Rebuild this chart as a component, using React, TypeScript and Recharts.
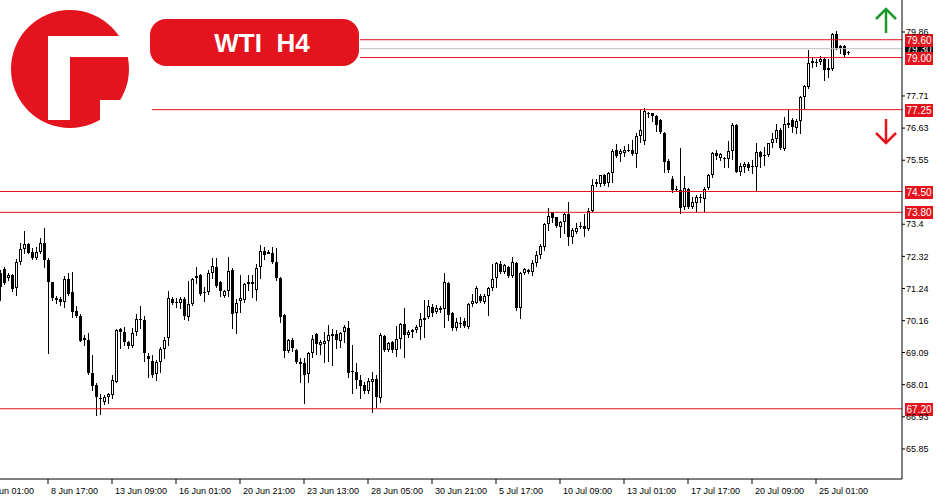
import { ComposedChart, Bar, XAxis, YAxis, ReferenceLine } from 'recharts';

// H4 candles (oldest first)
const opens = [
  71.75, 71.9, 71.58, 71.69, 71.25, 72.14, 72.56, 72.74, 72.48, 72.26, 72.48, 72.76, 72.2, 71.45, 70.93, 70.89, 70.78, 71.55, 71.11, 70.49,
  70.32, 69.57, 69.51, 68.41, 68.0, 67.55, 67.42, 67.6, 67.65, 68.11, 69.88, 69.79, 69.45, 69.32, 69.77, 70.22, 70.17, 68.98, 68.8, 68.36,
  68.78, 69.21, 69.57, 70.89, 70.8, 70.77, 70.89, 70.3, 70.72, 71.58, 71.69, 71.11, 71.14, 71.77, 71.97, 71.47, 71.0, 71.17, 71.86, 70.41,
  70.82, 70.86, 71.38, 71.47, 71.19, 71.95, 72.5, 72.48, 72.45, 72.14, 71.6, 70.35, 69.15, 69.51, 69.17, 68.78, 68.75, 68.36, 69.06, 69.71,
  69.34, 69.39, 69.48, 69.7, 69.7, 69.48, 69.77, 69.93, 68.47, 68.45, 68.17, 68.0, 67.8, 68.11, 68.2, 67.57, 69.65, 69.17, 69.43, 69.17,
  69.53, 70.05, 69.68, 69.85, 69.85, 69.96, 70.18, 70.27, 70.63, 70.46, 70.58, 70.54, 71.41, 70.41, 69.9, 70.07, 70.15, 69.96, 70.72, 70.77,
  71.0, 70.8, 71.0, 71.25, 71.61, 72.05, 71.78, 71.98, 71.67, 72.11, 70.6, 71.75, 71.87, 71.8, 72.1, 72.35, 72.65, 73.41, 73.8, 73.63,
  73.32, 73.49, 73.74, 72.98, 73.15, 73.34, 73.34, 73.24, 73.86, 74.74, 74.74, 75.05, 74.8, 75.11, 75.9, 75.75, 75.78, 75.91, 75.9, 75.76,
  76.38, 76.21, 77.1, 77.13, 77.04, 76.9, 76.48, 75.54, 74.92, 74.6, 74.55, 73.97, 74.57, 73.97, 74.13, 74.32, 74.24, 74.61, 75.06, 75.81,
  75.62, 75.61, 75.59, 75.87, 76.73, 75.17, 75.31, 75.42, 75.37, 75.34, 75.84, 75.73, 75.73, 76.14, 76.25, 76.57, 75.93, 76.79, 76.9, 76.62,
  76.87, 77.66, 78.02, 78.81, 78.85, 78.84, 78.95, 78.64, 78.61, 79.79, 79.31, 79.39, 79.15,
];
const highs = [
  71.86, 71.98, 71.75, 71.73, 72.22, 72.78, 73.17, 72.76, 72.59, 72.65, 72.93, 73.27, 72.25, 71.47, 70.99, 70.97, 71.67, 71.75, 71.79, 70.65,
  70.37, 69.68, 69.74, 69.01, 68.06, 67.7, 67.66, 67.74, 68.34, 69.87, 69.93, 69.96, 69.48, 69.9, 70.37, 70.65, 70.32, 69.06, 69.01, 68.84,
  69.29, 69.62, 71.16, 70.97, 70.93, 70.97, 70.97, 71.49, 71.61, 71.98, 71.72, 71.3, 71.86, 72.25, 72.25, 71.5, 71.19, 72.31, 71.92, 70.88,
  71.7, 71.44, 71.7, 71.7, 72.05, 72.7, 72.65, 72.53, 72.65, 72.59, 71.64, 70.37, 69.54, 69.57, 69.2, 68.9, 68.9, 69.12, 69.68, 69.73,
  69.51, 69.79, 70.01, 69.88, 69.85, 69.79, 70.01, 70.15, 69.34, 68.73, 68.33, 68.09, 68.22, 68.45, 68.33, 69.73, 69.68, 69.46, 69.48, 69.99,
  70.09, 70.6, 69.85, 69.88, 70.01, 70.42, 70.86, 70.85, 70.72, 70.69, 70.65, 71.75, 71.45, 70.46, 70.24, 70.27, 70.24, 70.74, 71.04, 71.33,
  71.06, 71.05, 71.28, 72.05, 72.13, 72.17, 72.05, 71.99, 72.31, 72.14, 71.81, 71.92, 71.9, 72.2, 72.5, 72.75, 73.45, 73.94, 73.82, 73.65,
  73.52, 73.82, 74.14, 73.26, 73.43, 73.49, 73.74, 73.94, 74.91, 74.92, 75.05, 75.09, 75.17, 75.92, 76.09, 75.92, 76.03, 76.1, 76.23, 76.45,
  77.26, 77.3, 77.18, 77.15, 77.07, 76.92, 76.49, 75.58, 75.02, 74.69, 75.95, 75.02, 74.61, 74.3, 74.38, 74.42, 74.64, 75.09, 75.84, 75.89,
  75.8, 75.65, 76.2, 76.79, 76.77, 75.45, 75.5, 75.5, 75.56, 76.14, 75.87, 76.01, 76.14, 76.45, 76.77, 76.62, 77.01, 77.24, 76.96, 76.92,
  77.71, 78.08, 79.25, 79.01, 78.94, 79.05, 79.03, 78.94, 79.84, 79.89, 79.42, 79.41, 79.22,
];
const lows = [
  70.85, 71.39, 71.53, 71.16, 71.01, 72.05, 72.42, 72.42, 72.23, 72.23, 72.42, 71.98, 69.06, 70.86, 70.74, 70.69, 70.63, 71.02, 70.3, 70.27,
  69.48, 69.34, 68.37, 67.83, 66.99, 67.01, 67.36, 67.38, 67.55, 68.11, 69.23, 69.34, 69.25, 69.29, 69.68, 69.9, 68.8, 68.28, 68.28, 68.17,
  68.42, 68.92, 69.34, 70.71, 70.63, 70.58, 70.2, 70.18, 70.69, 71.44, 71.02, 70.82, 71.05, 71.58, 71.3, 71.0, 70.97, 70.99, 69.9, 69.76,
  70.46, 70.8, 71.19, 70.97, 70.85, 71.61, 72.23, 72.42, 72.09, 71.53, 70.13, 68.95, 69.12, 69.15, 68.73, 68.11, 67.38, 68.11, 68.95, 69.03,
  69.03, 68.76, 68.8, 68.67, 69.23, 69.29, 69.46, 68.28, 67.74, 67.89, 67.55, 67.72, 67.72, 67.08, 67.27, 67.44, 69.14, 69.14, 69.1, 68.98,
  69.25, 68.95, 69.62, 69.62, 69.79, 69.54, 69.61, 70.24, 70.32, 70.41, 70.46, 69.94, 70.18, 69.85, 69.85, 69.96, 69.96, 69.93, 70.65, 70.74,
  70.8, 70.77, 70.35, 71.19, 71.3, 71.77, 71.75, 71.64, 71.62, 70.52, 70.24, 71.73, 71.75, 71.7, 72.0, 72.25, 72.54, 73.21, 73.49, 73.3,
  72.98, 73.1, 72.7, 72.76, 73.1, 73.26, 73.01, 73.21, 73.82, 74.69, 74.69, 74.72, 74.69, 74.83, 75.65, 75.54, 75.69, 75.87, 75.73, 75.34,
  76.18, 76.1, 77.02, 76.88, 76.55, 76.46, 75.17, 75.17, 74.49, 74.53, 73.79, 73.9, 73.94, 73.94, 73.86, 74.16, 73.86, 74.57, 75.0, 75.59,
  75.56, 75.34, 75.34, 75.58, 75.17, 75.05, 75.17, 75.22, 75.11, 74.53, 75.34, 75.39, 75.69, 76.01, 76.18, 75.92, 75.89, 76.68, 76.51, 76.46,
  76.46, 77.3, 77.97, 78.67, 78.72, 78.78, 78.25, 78.34, 78.58, 79.28, 79.14, 79.05, 79.12,
];
const closes = [
  71.3, 71.44, 71.69, 71.22, 72.12, 72.56, 72.74, 72.45, 72.26, 72.46, 72.76, 72.2, 71.45, 70.93, 70.85, 70.78, 71.55, 71.06, 70.46, 70.32,
  69.49, 69.51, 68.41, 67.98, 67.58, 67.52, 67.6, 67.7, 68.15, 69.85, 69.79, 69.43, 69.32, 69.73, 70.22, 70.18, 69.06, 68.87, 68.33, 68.78,
  69.2, 69.51, 70.91, 70.77, 70.78, 70.88, 70.33, 70.72, 71.56, 71.67, 71.06, 71.12, 71.75, 71.99, 71.34, 71.17, 71.16, 71.83, 70.38, 70.74,
  70.91, 71.39, 71.47, 71.38, 71.94, 72.5, 72.37, 72.4, 72.14, 71.58, 70.3, 69.15, 69.51, 69.23, 68.78, 68.7, 68.33, 69.06, 69.54, 69.36,
  69.43, 69.48, 69.68, 69.66, 69.51, 69.73, 69.96, 68.41, 68.42, 68.17, 67.98, 67.8, 68.13, 68.2, 67.61, 69.68, 69.17, 69.4, 69.17, 69.54,
  70.05, 69.68, 69.77, 69.79, 69.96, 70.22, 70.26, 70.65, 70.43, 70.58, 70.52, 71.47, 70.35, 69.9, 70.13, 70.06, 69.98, 70.72, 70.82, 71.25,
  70.83, 71.0, 71.25, 71.55, 72.09, 71.78, 72.03, 71.67, 72.12, 70.58, 71.75, 71.89, 71.78, 72.1, 72.35, 72.67, 73.41, 73.68, 73.62, 73.34,
  73.46, 73.74, 72.98, 73.21, 73.26, 73.3, 73.24, 73.84, 74.72, 74.82, 75.04, 74.74, 75.11, 75.87, 75.69, 75.86, 75.9, 75.9, 75.75, 76.37,
  76.57, 77.21, 77.13, 77.04, 76.73, 76.51, 75.5, 75.22, 74.55, 74.56, 73.94, 74.61, 73.97, 74.16, 74.33, 74.3, 74.57, 75.06, 75.81, 75.71,
  75.76, 75.6, 75.86, 76.73, 75.17, 75.36, 75.42, 75.29, 75.36, 75.84, 75.65, 75.7, 76.12, 76.26, 76.57, 75.95, 76.77, 76.74, 76.66, 76.87,
  77.66, 78.05, 78.83, 78.9, 78.84, 78.95, 78.58, 78.58, 79.79, 79.31, 79.39, 79.09, 79.2,
];

const priceTicks = [65.85, 66.93, 68.01, 69.09, 70.16, 71.24, 72.32, 73.4, 75.55, 76.63, 77.71, 79.86];
const timeTicks = [-4, 12, 28, 44, 60, 76, 92, 108, 124, 140, 156, 172, 188, 204];
const timeLabels = [
  '6 Jun 01:00', '8 Jun 17:00', '13 Jun 09:00', '16 Jun 01:00', '20 Jun 21:00', '23 Jun 13:00', '28 Jun 05:00',
  '30 Jun 21:00', '5 Jul 17:00', '10 Jul 09:00', '13 Jul 01:00', '17 Jul 17:00', '20 Jul 09:00', '25 Jul 01:00',
];
// horizontal levels: price, bar index where the line starts
const levels = [
  { price: 79.6, from: 90 },
  { price: 79.0, from: 90 },
  { price: 77.25, from: 38 },
  { price: 74.5, from: -5 },
  { price: 73.8, from: -5 },
  { price: 67.2, from: -5 },
];
const lastPrice = 79.3;

const RED = '#e3141d';
const FONT = '"Liberation Sans", Arial, sans-serif';

const data = opens.map((o, i) => ({ i, open: o, high: highs[i], low: lows[i], close: closes[i] }));

const Candle = (props: any) => {
  const { x, y, width, height, payload } = props;
  if (!payload) return null;
  const { open, close, high, low } = payload;
  const yHi = Math.min(y, y + height);
  const yLo = Math.max(y, y + height);
  const py = (p: number) => yHi + ((high - p) / (high - low || 1)) * (yLo - yHi);
  const cx = Math.round(x + width / 2);
  const top = Math.round(py(Math.max(open, close)));
  const bot = Math.round(py(Math.min(open, close)));
  const up = close > open;
  return (
    <g shapeRendering="crispEdges">
      <line x1={cx + 0.5} x2={cx + 0.5} y1={Math.round(yHi)} y2={Math.round(yLo) + 1} stroke="#000" strokeWidth={1} />
      {bot - top < 2 ? (
        <rect x={cx - 1} y={top} width={3} height={1} fill="#000" />
      ) : up ? (
        <rect x={cx - 0.5} y={top + 0.5} width={2} height={bot - top - 1} fill="#fff" stroke="#000" strokeWidth={1} />
      ) : (
        <rect x={cx - 1} y={top} width={3} height={bot - top} fill="#000" />
      )}
    </g>
  );
};

const XTick = (props: any) => {
  const { x, y, payload } = props;
  const idx = timeTicks.indexOf(payload.value);
  return (
    <text x={x + 3} y={y + 8} fontSize={9} fontFamily={FONT} fill="#000" textAnchor="start">
      {timeLabels[idx]}
    </text>
  );
};

const tag = (text: string, fill: string) => (props: any) => {
  const vb = props.viewBox || {};
  const lx = (vb.x || 0) + (vb.width || 0) + 3;
  const ly = Math.round(vb.y || 0);
  return (
    <g>
      <rect x={lx} y={ly - 6} width={28} height={13} fill={fill} />
      <text x={lx + 14} y={ly + 4} fontSize={10} fontFamily={FONT} fill="#fff" textAnchor="middle">
        {text}
      </text>
    </g>
  );
};

function Logo() {
  return (
    <svg width={950} height={500} style={{ position: 'absolute', left: 0, top: 0, pointerEvents: 'none' }}>
      <circle cx={70} cy={69} r={59} fill={RED} />
      <path d="M48 36 L140 36 L140 57 L48 57 Z" fill="#fff" />
      <path d="M48 36 L70 36 L70 120 L48 120 Z" fill="#fff" />
      <path d="M100 100 L140 100 L140 140 L100 140 Z" fill="#fff" />
      <rect x={150} y={19} width={209} height={47} rx={16} fill={RED} />
      <text x={262} y={52} fontSize={26} fontWeight="bold" fontFamily={FONT} fill="#fff" textAnchor="middle" style={{ whiteSpace: 'pre' }}>
        {'WTI  H4'}
      </text>
      <g stroke="#1a9a2a" strokeWidth={2.5} fill="none">
        <line x1={886} y1={33} x2={886} y2={9} />
        <polyline points="876,19 886,9 896,19" />
      </g>
      <g stroke={RED} strokeWidth={2.5} fill="none">
        <line x1={886} y1={119} x2={886} y2={143} />
        <polyline points="876,133 886,143 896,133" />
      </g>
    </svg>
  );
}

export default function App() {
  return (
    <div style={{ position: 'absolute', left: 0, top: 0, width: 950, height: 500, background: '#fff' }}>
      <ComposedChart width={950} height={500} data={data} margin={{ top: 0, right: 0, bottom: 0, left: -20 }}>
        <XAxis
          dataKey="i"
          type="number"
          domain={[-5, 225.5]}
          ticks={timeTicks}
          interval={0}
          height={21}
          tickSize={5}
          tickMargin={2}
          tick={<XTick />}
          axisLine={{ stroke: '#000' }}
          tickLine={{ stroke: '#000' }}
        />
        <YAxis
          orientation="right"
          domain={[64.84, 80.935]}
          ticks={priceTicks}
          interval={0}
          width={48}
          tickSize={3}
          tickMargin={1}
          tick={{ fontSize: 9, fontFamily: FONT, fill: '#000' }}
          axisLine={{ stroke: '#000' }}
          tickLine={{ stroke: '#000' }}
          allowDataOverflow
        />
        <ReferenceLine
          segment={[{ x: 90, y: lastPrice }, { x: 225.5, y: lastPrice }]}
          stroke="#c0c0c0"
          label={tag(lastPrice.toFixed(2), '#000')}
          ifOverflow="visible"
        />
        {levels.map((l) => (
          <ReferenceLine
            key={l.price}
            segment={[{ x: l.from, y: l.price }, { x: 225.5, y: l.price }]}
            stroke={RED}
            label={tag(l.price.toFixed(2), RED)}
            ifOverflow="visible"
          />
        ))}
        <Bar dataKey={(d: any) => [d.low, d.high]} barSize={3} shape={<Candle />} isAnimationActive={false} />
      </ComposedChart>
      <Logo />
    </div>
  );
}
